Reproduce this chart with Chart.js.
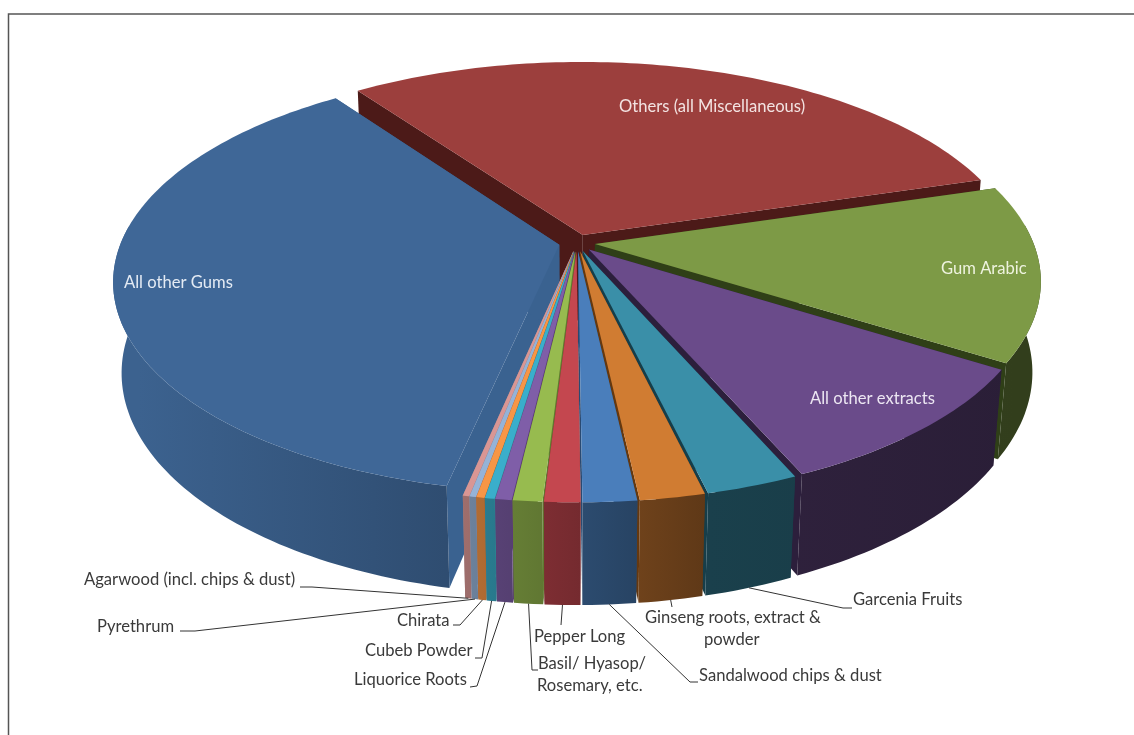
<!DOCTYPE html>
<html>
<head>
<meta charset="utf-8">
<title>Gums, extracts and miscellaneous products</title>
<script src="https://cdn.jsdelivr.net/npm/chart.js"></script>
<style>
  html, body { margin: 0; padding: 0; background: #fff; }
  #chart { display: block; }
</style>
</head>
<body>
<canvas id="chart" width="1134" height="735"></canvas>
<script>
// Share of each product, in Excel's series order
const categories = [
  "All other Gums", "Others (all Miscellaneous)", "Gum Arabic", "All other extracts",
  "Garcenia Fruits", "Ginseng roots, extract & powder", "Sandalwood chips & dust",
  "Pepper Long", "Basil/ Hyasop/ Rosemary, etc.", "Liquorice Roots", "Cubeb Powder",
  "Chirata", "Pyrethrum", "Agarwood (incl. chips & dust)"
];
const shares = [36.8, 30.4, 13.5, 9.55, 2.85, 2.0, 1.65, 1.1, 0.9, 0.5, 0.3, 0.25, 0.2, 0.2];

const topColors = [
  "#3f6797", "#9c3f3d", "#7d9a46", "#6a4b8a", "#3a8fa8", "#d07c32", "#4a7ebb",
  "#c4474f", "#97bb4f", "#7f5ea8", "#3aaecb", "#f79646", "#95b3d7", "#d99694"
];
// Cut faces of each wedge
const sideColors = [
  "#3a6290", "#4c1a18", "#2f3f17", "#2c1f3c", "#163e4a", "#65380f", "#2a4a72",
  "#7e2b2a", "#5f7a2f", "#5a3a78", "#2e8a95", "#b05f20", "#8a8aa8", "#a08585"
];

// Perspective of the tilted pie, px
const viewWidth = 438.5;
const viewHeight = 205;
const viewDepth = 91;
const nearGrow = 0.17;
const depthShrink = 0.018;

// Text on the wedges and the leader lines below the pie
const insideLabels = [
  { text: "All other Gums", x: 124, y: 283, color: "#e4ebf4" },
  { text: "Others (all Miscellaneous)", x: 619, y: 107, color: "#f3e3e2" },
  { text: "Gum Arabic", x: 941, y: 269, color: "#eef3df" },
  { text: "All other extracts", x: 810, y: 399, color: "#ece6f2" }
];
const outsideLabels = [
  { index: 12, lines: [["Pyrethrum", 97, 627]], leader: [[180, 631], [195, 631]] },
  { index: 13, lines: [["Agarwood (incl. chips & dust)", 84, 580]], leader: [[300, 587], [312, 587]] },
  { index: 11, lines: [["Chirata", 397, 621]], leader: [[453, 625], [460, 625]] },
  { index: 10, lines: [["Cubeb Powder", 365, 651]], leader: [[475, 658], [482, 658]] },
  { index: 9, lines: [["Liquorice Roots", 354, 680]], leader: [[470, 687], [477, 686]] },
  { index: 8, lines: [["Basil/ Hyasop/", 538, 664], ["Rosemary, etc.", 537, 686]], leader: [[538, 670], [532, 670]] },
  { index: 7, lines: [["Pepper Long", 534, 637]], leader: [[561, 625]] },
  { index: 6, lines: [["Sandalwood chips & dust", 699, 676]], leader: [[698, 682], [690, 682]] },
  { index: 5, lines: [["Ginseng roots, extract &", 645, 618], ["powder", 704, 640]], leader: [[672, 607]] },
  { index: 4, lines: [["Garcenia Fruits", 853, 600]], leader: [[852, 608], [843, 608]] }
];

function shade(hex, f) {
  const n = parseInt(hex.slice(1), 16);
  const c = [n >> 16, (n >> 8) & 255, n & 255].map((v) => Math.round(v * f));
  return `rgb(${c[0]},${c[1]},${c[2]})`;
}

// Rim is lit from the left: bright at the far left, dark towards the right
function rimGradient(ctx, cx, hex) {
  const g = ctx.createLinearGradient(cx - viewWidth, 0, cx + viewWidth, 0);
  g.addColorStop(0, shade(hex, 0.95));
  g.addColorStop(0.35, shade(hex, 0.75));
  g.addColorStop(0.65, shade(hex, 0.45));
  g.addColorStop(1, shade(hex, 0.4));
  return g;
}

const tiltedPie = {
  id: "tiltedPie",
  beforeDraw(chart) {
    // Frame: only the top and left edges show
    const ctx = chart.ctx;
    ctx.save();
    ctx.strokeStyle = "#555";
    ctx.lineWidth = 1.5;
    ctx.beginPath();
    ctx.moveTo(8.5, 735);
    ctx.lineTo(8.5, 14);
    ctx.lineTo(1134, 14);
    ctx.stroke();
    ctx.restore();
  },
  beforeDatasetsDraw(chart) {
    const ctx = chart.ctx;
    const arcs = chart.getDatasetMeta(0).data;

    // plane coordinates are in radii, h = 0 on top and 1 at the bottom of the rim
    const project = (u, v, h) => {
      const w = 1 - nearGrow * v + depthShrink * h;
      return [arcs[0].x + (viewWidth * u) / w, arcs[0].y + (viewHeight * v + viewDepth * h) / w];
    };

    const wedges = arcs.map((arc, i) => {
      const mid = (arc.startAngle + arc.endAngle) / 2;
      const e = arc.options.offset / arc.outerRadius;
      return { arc, i, mid, ox: e * Math.cos(mid), oy: e * Math.sin(mid) };
    });

    const fillPath = (pts, color) => {
      ctx.beginPath();
      pts.forEach((p, k) => (k ? ctx.lineTo(p[0], p[1]) : ctx.moveTo(p[0], p[1])));
      ctx.closePath();
      ctx.fillStyle = color;
      ctx.fill();
    };

    // Back wedges first so the nearer ones paint over them
    const order = wedges.slice().sort((a, b) => Math.sin(a.mid) - Math.sin(b.mid));
    order.forEach((w) => {
      const { arc, i, ox, oy } = w;
      const rimAt = (a, h) => project(ox + Math.cos(a), oy + Math.sin(a), h);
      const hub = (h) => project(ox, oy, h);
      const a0 = arc.startAngle;
      const a1 = arc.endAngle;
      const side = sideColors[i];

      fillPath([hub(0), rimAt(a0, 0), rimAt(a0, 1), hub(1)], side);
      fillPath([hub(0), rimAt(a1, 0), rimAt(a1, 1), hub(1)], side);

      const steps = Math.max(2, Math.ceil((a1 - a0) / 0.02));
      const top = [hub(0)];
      const rimTop = [];
      const rimBottom = [];
      for (let s = 0; s <= steps; s++) {
        const a = a0 + ((a1 - a0) * s) / steps;
        top.push(rimAt(a, 0));
        if (Math.sin(a) > -0.1) { // far side of the rim is hidden
          rimTop.push(rimAt(a, 0));
          rimBottom.unshift(rimAt(a, 1));
        }
      }
      if (rimTop.length > 1) {
        fillPath(rimTop.concat(rimBottom), rimGradient(ctx, arc.x, arc.options.backgroundColor));
      }
      fillPath(top, arc.options.backgroundColor);
    });

    // Labels
    ctx.font = "16.6px Lato";
    ctx.textAlign = "left";
    ctx.textBaseline = "middle";
    insideLabels.forEach((l) => {
      ctx.fillStyle = l.color;
      ctx.fillText(l.text, l.x, l.y);
    });
    outsideLabels.forEach((l) => {
      const w = wedges[l.index];
      const from = project(w.ox + Math.cos(w.mid), w.oy + Math.sin(w.mid), 1);
      ctx.beginPath();
      ctx.moveTo(from[0], from[1]);
      l.leader.slice().reverse().forEach((p) => ctx.lineTo(p[0], p[1]));
      ctx.strokeStyle = "#333";
      ctx.lineWidth = 1;
      ctx.stroke();
      ctx.fillStyle = "#3a3a3a";
      l.lines.forEach((t) => ctx.fillText(t[0], t[1], t[2]));
    });
    return false;
  }
};

new Chart(document.getElementById("chart"), {
  type: "pie",
  data: {
    labels: categories,
    datasets: [
      {
        data: shares,
        backgroundColor: topColors,
        borderWidth: 0,
        offset: 9,
        hoverOffset: 9,
      },
    ],
  },
  options: {
    responsive: false,
    animation: false,
    rotation: 191.95,
    layout: { padding: { left: 20, right: 0, top: 20, bottom: 269 } },
    events: [],
    plugins: {
      legend: { display: false },
      tooltip: { enabled: false },
    },
  },
  plugins: [tiltedPie],
});
</script>
</body>
</html>
